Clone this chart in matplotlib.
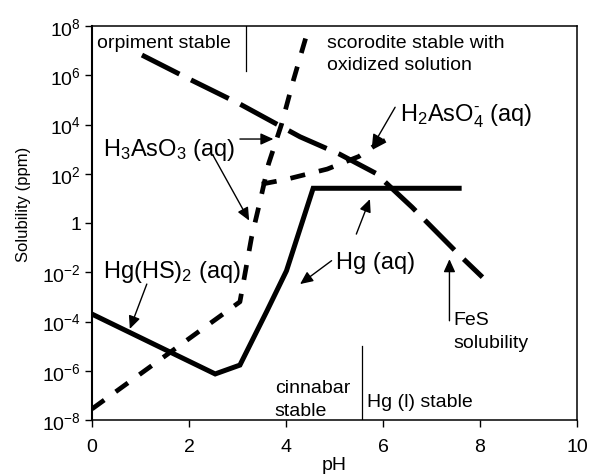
import numpy as np
import matplotlib
matplotlib.use("Agg")
import matplotlib.pyplot as plt

plt.rcParams['font.family'] = ['Liberation Sans', 'DejaVu Sans']
plt.rcParams['mathtext.fontset'] = 'custom'
plt.rcParams['mathtext.rm'] = 'Liberation Sans'
plt.rcParams['mathtext.it'] = 'Liberation Sans:italic'
plt.rcParams['mathtext.bf'] = 'Liberation Sans:bold'

# ---- data (pH, log10 solubility in ppm) ----
fes_ph = [1.03, 2.0, 3.05, 4.29, 5.1, 5.85, 6.6, 7.59, 8.05]
fes_log = [6.82, 5.85, 4.83, 3.5, 2.8, 2.02, 0.64, -1.33, -2.2]

as_ph = [0.0, 3.05, 3.29, 3.46, 3.64, 3.91, 4.15, 4.36, 4.48]
as_log = [-7.55, -3.2, -0.58, 0.84, 2.4, 4.02, 5.78, 7.2, 8.0]

h2aso4_ph = [3.5, 4.0, 4.85, 5.5, 5.8, 6.28]
h2aso4_log = [1.58, 1.77, 2.19, 2.7, 3.1, 3.6]

hg_ph = [0.0, 2.54, 3.05, 3.6, 4.01, 4.56, 7.57]
hg_log = [-3.7, -6.13, -5.77, -3.6, -1.94, 1.41, 1.41]

xticks = [0, 2, 4, 6, 8, 10]
yexp = [-8, -6, -4, -2, 0, 2, 4, 6, 8]
ytick_labels = [r'$\mathregular{10^{%d}}$' % e if e != 0 else '1' for e in yexp]

def P(v):
    return 10.0 ** np.asarray(v, dtype=float)

fig = plt.figure(figsize=(5.91, 4.77), dpi=100)
ax = fig.add_axes([92/591, 1-421/477, 485/591, 394/477])
ax.set_yscale('log')
ax.set_xlim(0, 10)
ax.set_ylim(1e-8, 1e8)

# curves
l1, = ax.plot(fes_ph, P(fes_log), color='black', lw=3.6, dash_capstyle='butt')
l1.set_dashes([8.4, 2.6])
l2, = ax.plot(as_ph, P(as_log), color='black', lw=3.4, dash_capstyle='butt')
l2.set_dashes([3.2, 3.0])
l3, = ax.plot(h2aso4_ph, P(h2aso4_log), color='black', lw=3.4, dash_capstyle='butt')
l3.set_dashes([3.2, 3.0])
ax.plot(hg_ph, P(hg_log), color='black', lw=3.6, solid_joinstyle='miter')

# field boundaries
ax.plot([3.17, 3.17], P([6.18, 8]), color='black', lw=0.9)
ax.plot([5.57, 5.57], P([-5.0, -8]), color='black', lw=0.9)

# texts
small = 14
big = 17
ax.text(0.1, P(7.35), 'orpiment stable', fontsize=small, va='center', ha='left')
ax.text(4.84, P(7.35), 'scorodite stable with', fontsize=small, va='center', ha='left')
ax.text(4.84, P(6.45), 'oxidized solution', fontsize=small, va='center', ha='left')
ax.text(6.35, P(4.36), 'H$_2$AsO$_4^{\u2010}$ (aq)', fontsize=big, va='center', ha='left')
ax.text(0.23, P(3.0), r'H$_3$AsO$_3$ (aq)', fontsize=big, va='center', ha='left')
ax.text(0.23, P(-1.94), r'Hg(HS)$_2$ (aq)', fontsize=big, va='center', ha='left')
ax.text(5.04, P(-1.6), 'Hg (aq)', fontsize=big, va='center', ha='left')
ax.text(7.45, P(-3.9), 'FeS', fontsize=small, va='center', ha='left')
ax.text(7.45, P(-4.85), 'solubility', fontsize=small, va='center', ha='left')
ax.text(3.77, P(-6.7), 'cinnabar', fontsize=small, va='center', ha='left')
ax.text(3.77, P(-7.62), 'stable', fontsize=small, va='center', ha='left')
ax.text(5.68, P(-7.26), 'Hg (l) stable', fontsize=small, va='center', ha='left')

# arrows: (tail, head)
arrows = [
    ((3.05, 3.41), (3.74, 3.41)),
    ((2.5, 2.73), (3.24, 0.1)),
    ((6.25, 4.70), (5.77, 3.07)),
    ((1.13, -2.48), (0.78, -4.3)),
    ((4.94, -1.53), (4.29, -2.48)),
    ((5.45, -0.45), (5.73, 0.97)),
    ((7.37, -3.97), (7.37, -1.47)),
]
for (tx, ty), (hx, hy) in arrows:
    ax.annotate('', xy=(hx, P(hy)), xytext=(tx, P(ty)),
                arrowprops=dict(arrowstyle='-|>,head_length=0.55,head_width=0.25',
                                color='black', lw=1.0, mutation_scale=14,
                                shrinkA=0, shrinkB=0))

ax.set_xticks(xticks)
ax.set_yticks(P(yexp))
ax.set_yticklabels(ytick_labels)
ax.yaxis.set_minor_locator(matplotlib.ticker.NullLocator())
ax.tick_params(axis='both', direction='out', length=5, width=1, labelsize=14,
               top=False, right=False)
ax.tick_params(axis='x', pad=8)
ax.tick_params(axis='y', pad=3)
ax.set_xlabel('pH', fontsize=14, labelpad=1)
ax.set_ylabel('Solubility (ppm)', fontsize=12)
ax.yaxis.set_label_coords(-0.126, 0.55)
for s in ax.spines.values():
    s.set_linewidth(1.1)
ax.spines['left'].set_linewidth(1.5)

fig.savefig('out.png', dpi=100)
